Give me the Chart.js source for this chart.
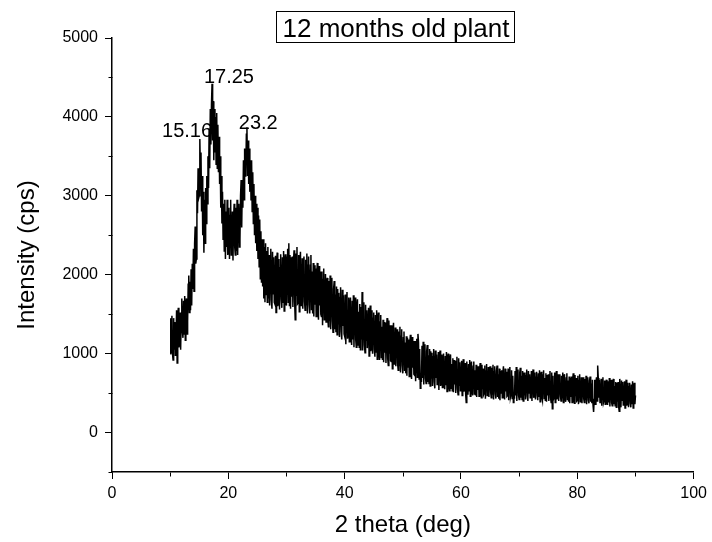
<!DOCTYPE html>
<html>
<head>
<meta charset="utf-8">
<script src="https://cdn.jsdelivr.net/npm/chart.js@4.4.1/dist/chart.umd.min.js"></script>
<style>
  html, body { margin: 0; padding: 0; background: #fff; }
  #wrap { width: 712px; height: 542px; }
</style>
</head>
<body>
<div id="wrap"><canvas id="c" width="712" height="542"></canvas></div>
<script>
// ---- data ----
const chartTitle = '12 months old plant';
const xAxisTitle = '2 theta (deg)';
const yAxisTitle = 'Intensity (cps)';
const thetaStart = 10;      // first 2θ sample (deg)
const thetaStep = 0.1;      // sampling step (deg)
const intensity = [
  1000,1450,1010,1480,1000,920,1450,1060,1400,980,
  1100,1550,880,1470,1580,1080,1130,1520,1050,1440,
  1700,1280,1200,1670,1250,1730,1170,1620,1700,1250,
  1400,1880,1990,1520,1910,1550,2070,1610,2140,1820,
  2330,1790,2390,2610,2140,2200,3070,2780,3350,2970,
  3000,3720,3300,3550,2800,3250,2500,3050,2280,2950,
  2400,3100,2650,3250,2900,3500,3100,3850,3350,4100,
  3650,4150,4420,3700,4200,3450,4100,3550,4000,3400,
  4050,3350,3900,3300,3750,3150,3500,2850,3250,2650,
  3050,2450,2900,2300,2950,2200,2800,2350,2950,2250,
  2300,2850,2200,2750,2950,2250,2350,2800,2180,2700,
  2900,2350,2250,2850,2300,2950,2250,2800,2900,2350,
  2450,3000,3200,2600,3150,2850,3450,2950,3600,3250,
  3300,3780,3870,3250,3700,3150,3600,3050,3450,2950,
  3450,2800,3300,2650,3150,2500,3000,2400,2900,2300,
  2850,2200,2750,2100,2700,1950,2550,1900,2450,1850,
  2450,1700,2350,1650,2400,1750,2300,1650,2350,1700,
  2250,1610,2180,2330,1680,1570,2290,1760,2220,1650,
  1630,2240,1520,2130,2280,1600,1670,2200,1560,2090,
  2260,1690,1580,2220,1650,2300,1540,2150,2260,1650,
  1610,2220,2330,1650,2400,1610,2250,1570,2220,1720,
  2230,1590,2160,2310,1660,1430,2270,1740,2350,1630,
  1640,2250,1530,2140,2290,1610,1680,2210,1570,2100,
  2230,1660,1550,2190,1620,2270,1510,2120,2230,1620,
  1510,2120,2250,1550,2040,1510,2150,1470,2120,1620,
  2080,1470,2010,2150,1540,1430,2110,1610,2040,1500,
  1470,2040,1360,1940,2080,1430,1500,2010,1400,1900,
  1960,1450,1340,1920,1410,1990,1310,1850,1960,1410,
  1270,1820,1920,1310,1750,1270,1850,1240,1820,1380,
  1770,1210,1710,1840,1280,1180,1810,1350,1740,1250,
  1220,1750,1120,1650,1780,1190,1250,1710,1150,1620,
  1710,1210,1110,1670,1180,1740,1080,1610,1710,1180,
  1080,1590,1690,1110,1530,1080,1630,1050,1590,1180,
  1780,1040,1520,1650,1110,1010,1620,1170,1550,1070,
  1070,1580,970,1480,1610,1030,1100,1550,1000,1450,
  1520,1050,960,1490,1020,1550,930,1430,1520,1020,
  920,1400,1490,950,1340,920,1430,890,1400,1010,
  1390,880,1330,1450,940,850,1420,1000,1360,910,
  900,1360,810,1270,1390,870,930,1330,840,1250,
  1310,880,790,1280,850,1340,760,1220,1310,850,
  750,1200,1280,780,1140,750,1220,720,1200,830,
  1180,710,1130,1240,760,680,1210,820,1160,740,
  730,1160,650,1080,1190,700,1250,1140,680,1060,
  560,720,640,1100,690,1150,610,1040,1120,690,
  620,1030,1110,640,980,620,1060,590,1030,690,
  1010,590,960,1060,640,560,1040,690,990,610,
  620,1020,540,940,1040,590,640,990,570,920,
  1000,620,550,970,600,1020,520,920,1000,600,
  530,920,990,560,870,530,940,510,920,610,
  910,500,860,960,550,480,940,600,890,530,
  540,910,470,840,930,520,560,880,490,380,
  900,550,480,870,530,920,460,830,900,530,
  470,840,900,490,790,470,860,450,840,540,
  840,460,790,880,510,440,860,550,810,480,
  500,850,430,780,870,470,520,830,450,760,
  840,510,440,820,490,860,420,770,840,490,
  430,780,850,450,740,430,810,410,780,500,
  790,440,750,840,480,420,810,520,770,460,
  470,810,410,750,830,450,490,790,430,720,
  380,490,430,780,470,830,400,740,800,470,
  420,760,820,440,720,420,780,400,760,480,
  760,420,720,800,460,400,780,500,740,440,
  460,780,400,720,800,440,480,760,420,700,
  770,470,410,750,450,790,390,710,770,450,
  410,730,790,430,690,410,750,390,730,470,
  740,400,700,780,440,380,760,300,720,420,
  440,760,380,700,780,420,460,740,400,680,
  740,460,400,720,440,760,380,680,740,440,
  390,690,750,410,660,390,710,370,690,450,
  710,380,670,750,420,370,730,460,690,400,
  410,720,360,660,740,390,430,700,370,640,
  700,430,380,680,410,720,360,650,700,410,
  370,660,710,390,620,370,670,350,260,420,
  670,360,630,700,400,850,690,440,670,380,
  390,680,340,630,700,380,410,660,360,610,
  670,400,350,650,380,690,330,620,670,380,
  340,630,680,360,590,340,640,320,630,390,
  640,330,270,680,370,320,660,410,640,350,
  360,650,310,590,670,340,380,630,320,580,
  630,370,320,610,360,650,310,580,630,360,
  470
];
const peakLabels = ['15.16', '17.25', '23.2'];
const xTickValues = [0, 20, 40, 60, 80, 100];
const xMinorTickValues = [10, 30, 50, 70, 90];
const yTickValues = [0, 1000, 2000, 3000, 4000, 5000];
const yMinorTickValues = [-500, 500, 1500, 2500, 3500, 4500];

// ---- presentation ----
const FONT = "'Liberation Sans', Arial, Helvetica, sans-serif";
// anchor (data coords) of each peak label's left baseline
const peakLabelAnchors = [
  { x: 8.6, y: 3745 },
  { x: 15.8, y: 4430 },
  { x: 21.8, y: 3845 }
];

const points = intensity.map((v, i) => ({ x: +(thetaStart + i * thetaStep).toFixed(2), y: v }));

const decorPlugin = {
  id: 'decor',
  afterDraw(chart) {
    const { ctx, scales: { x, y } } = chart;
    ctx.save();
    ctx.strokeStyle = '#000';
    ctx.lineWidth = 1;
    const axisY = Math.round(y.getPixelForValue(-500)) + 0.5;
    xMinorTickValues.forEach(v => {
      const px = Math.round(x.getPixelForValue(v)) + 0.5;
      ctx.beginPath(); ctx.moveTo(px, axisY); ctx.lineTo(px, axisY + 4); ctx.stroke();
    });
    const axisX = Math.round(x.getPixelForValue(0)) + 0.5;
    yMinorTickValues.forEach(v => {
      const py = Math.round(y.getPixelForValue(v)) + 0.5;
      ctx.beginPath(); ctx.moveTo(axisX, py); ctx.lineTo(axisX - 4, py); ctx.stroke();
    });
    ctx.fillStyle = '#000';
    ctx.font = `20px ${FONT}`;
    ctx.textAlign = 'left';
    ctx.textBaseline = 'alphabetic';
    peakLabels.forEach((t, i) => {
      const a = peakLabelAnchors[i];
      ctx.fillText(t, x.getPixelForValue(a.x), y.getPixelForValue(a.y));
    });
    ctx.font = `26px ${FONT}`;
    ctx.textAlign = 'center';
    ctx.fillText(chartTitle, 396, 37);
    ctx.lineWidth = 1;
    ctx.strokeRect(276.5, 11.5, 238, 31);
    ctx.restore();
  }
};

new Chart(document.getElementById('c'), {
  type: 'line',
  data: {
    datasets: [{
      data: points,
      borderColor: '#000',
      borderWidth: 1.5,
      pointRadius: 0,
      tension: 0,
      fill: false
    }]
  },
  options: {
    responsive: false,
    animation: false,
    layout: { padding: { left: 0, right: 17, top: 38, bottom: 0 } },
    plugins: { legend: { display: false }, tooltip: { enabled: false }, title: { display: false } },
    scales: {
      x: {
        type: 'linear',
        min: 0, max: 100,
        afterBuildTicks: s => { s.ticks = xTickValues.map(v => ({ value: v })); },
        afterFit: s => { s.height = 70; },
        grid: { drawOnChartArea: false, drawTicks: true, tickLength: 7, tickColor: '#000', tickWidth: 1 },
        border: { display: true, color: '#000', width: 1.5 },
        ticks: { color: '#000', font: { family: FONT, size: 16 }, padding: 5, maxRotation: 0, autoSkip: false,
                 callback: v => String(v) },
        title: { display: true, text: xAxisTitle, color: '#000', font: { family: FONT, size: 24 }, padding: { top: 0, bottom: 2 } }
      },
      y: {
        type: 'linear',
        min: -500, max: 5000,
        afterBuildTicks: s => { s.ticks = yTickValues.map(v => ({ value: v })); },
        afterFit: s => { s.width = 112; },
        grid: { drawOnChartArea: false, drawTicks: true, tickLength: 7, tickColor: '#000', tickWidth: 1 },
        border: { display: true, color: '#000', width: 1.5 },
        ticks: { color: '#000', font: { family: FONT, size: 16 }, padding: 7, autoSkip: false,
                 callback: v => String(v) },
        title: { display: true, text: yAxisTitle, color: '#000', font: { family: FONT, size: 24 }, padding: { top: 13, bottom: 0 } }
      }
    }
  },
  plugins: [decorPlugin]
});
</script>
</body>
</html>
